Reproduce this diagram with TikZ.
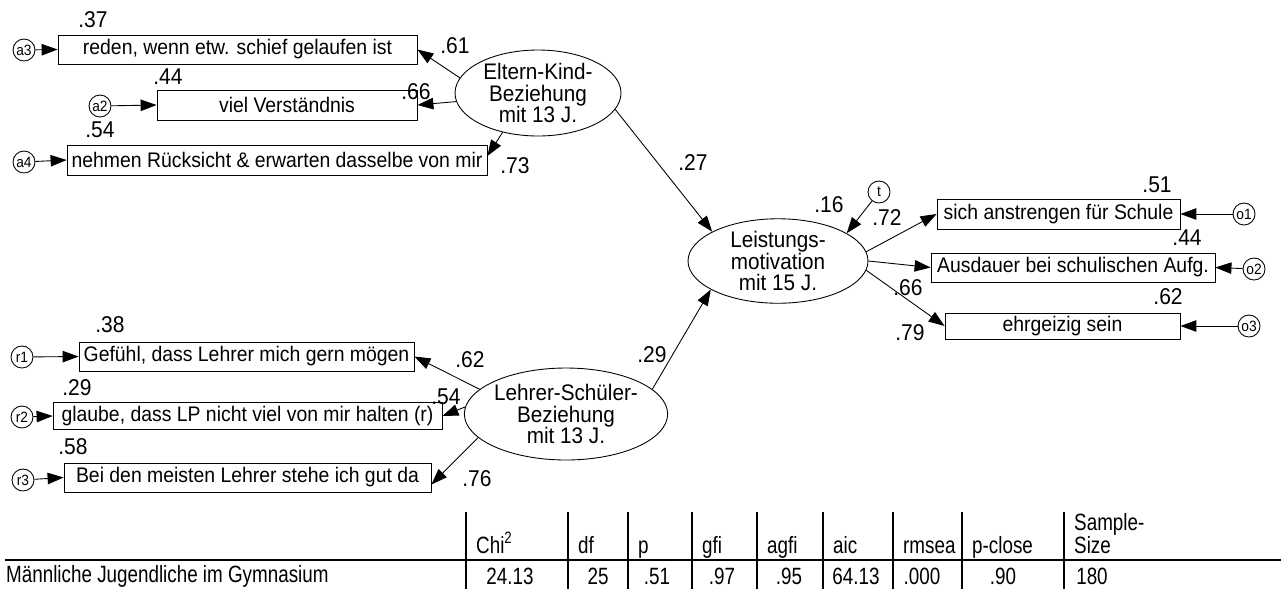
\documentclass[tikz,border=0pt]{standalone}
\usepackage{fontspec}
\setmainfont[FakeStretch=0.92]{Liberation Sans}
\newfontfamily\tablefont[FakeStretch=0.8]{Liberation Sans}
\usepackage{tikz}
\usetikzlibrary{arrows.meta, shapes.geometric}

\begin{document}
\begin{tikzpicture}[x=0.02cm, y=-0.02cm,
    every node/.style={font=\fontsize{12}{13}\selectfont},
    item/.style={draw, line width=0.5pt, inner sep=0pt, minimum height=0.58cm},
    latent/.style={draw, line width=0.5pt, ellipse, inner sep=0pt, align=center,
      font=\fontsize{12.8}{12.3}\selectfont},
    err/.style={draw, line width=0.5pt, circle, inner sep=0pt, minimum size=0.44cm,
      font=\fontsize{8.5}{8.5}\selectfont},
    coef/.style={font=\fontsize{13}{13}\selectfont},
    cell/.style={font=\tablefont\fontsize{13.4}{14}\selectfont},
    pathto/.style={-{Triangle[length=3.2mm,width=2.3mm]}, line width=0.5pt},
    rule/.style={line width=0.9pt}]
  \useasboundingbox (0,0) rectangle (1281,589);

  % Eltern-Kind-Beziehung and its indicators
  \node[latent, minimum width=3.32cm, minimum height=1.72cm] (ek) at (538,93)
    {Eltern-Kind-\\Beziehung\\mit 13 J.};
  \node[item, minimum width=7.18cm] (reden) at (237.5,49.5) {reden, wenn etw. schief gelaufen ist};
  \node[item, minimum width=5.2cm, minimum height=0.6cm] (verst) at (287,105) {viel Verständnis};
  \node[item, minimum width=8.4cm, minimum height=0.6cm] (ruecks) at (277,160)
    {nehmen Rücksicht \& erwarten dasselbe von mir};
  \node[err] (a3) at (24,50) {a3};
  \node[err] (a2) at (100,106) {a2};
  \node[err] (a4) at (24,162) {a4};

  % Lehrer-Schueler-Beziehung and its indicators
  \node[latent, minimum width=4cm, minimum height=1.84cm] (ls) at (566,414)
    {Lehrer-Schüler-\\Beziehung\\mit 13 J.};
  \node[item, minimum width=6.7cm] (gefuehl) at (246.5,356.5) {Gefühl, dass Lehrer mich gern mögen};
  \node[item, minimum width=7.78cm, minimum height=0.54cm] (glaube) at (247.5,416)
    {glaube, dass LP nicht viel von mir halten (r)};
  \node[item, minimum width=7.34cm] (stehe) at (247.5,477.5) {Bei den meisten Lehrer stehe ich gut da};
  \node[err] (r1) at (22,357) {r1};
  \node[err] (r2) at (22,417) {r2};
  \node[err] (r3) at (23,480) {r3};

  % Leistungsmotivation and its indicators
  \node[latent, minimum width=3.6cm, minimum height=1.64cm] (lm) at (778,261)
    {Leistungs-\\motivation\\mit 15 J.};
  \node[item, minimum width=4.86cm, minimum height=0.6cm] (anstr) at (1058.5,214) {sich anstrengen für Schule};
  \node[item, minimum width=5.68cm] (ausd) at (1073,267.5) {Ausdauer bei schulischen Aufg.};
  \node[item, minimum width=4.7cm, minimum height=0.52cm] (ehrg) at (1062.5,326) {ehrgeizig sein};
  \node[err] (t) at (879,192) {t};
  \node[err] (o1) at (1244,214) {o1};
  \node[err] (o2) at (1254,269) {o2};
  \node[err] (o3) at (1249,326) {o3};

  % paths
  \draw[pathto] (a3) -- (reden.west);
  \draw[pathto] (a2) -- (verst.west);
  \draw[pathto] (a4) -- (ruecks.west);
  \draw[pathto] (ek.169) -- (reden.east);
  \draw[pathto] (ek.186) -- (verst.east);
  \draw[pathto] (ek.228) -- ([yshift=0.8mm]ruecks.east);
  \draw[pathto] (ek.-12) -- (lm.156);
  \draw[pathto] (r1) -- (gefuehl.west);
  \draw[pathto] (r2) -- (glaube.west);
  \draw[pathto] (r3) -- (stehe.west);
  \draw[pathto] (ls.164) -- (gefuehl.east);
  \draw[pathto] (ls.176) -- (glaube.east);
  \draw[pathto] (ls.195) -- ([yshift=-1.4mm]stehe.east);
  \draw[pathto] (ls.16) -- (lm.203);
  \draw[pathto] (t) -- (lm.22);
  \draw[pathto] (lm.6) -- (anstr.west);
  \draw[pathto] (lm.0) -- (ausd.west);
  \draw[pathto] (lm.-6) -- (ehrg.west);
  \draw[pathto] (o1) -- (anstr.east);
  \draw[pathto] (o2) -- (ausd.east);
  \draw[pathto] (o3) -- (ehrg.east);

  % estimates
  \node[coef] (q-reden) at (93,20) {.37};
  \node[coef] (q-verst) at (168,77) {.44};
  \node[coef] (q-ruecks) at (100,130) {.54};
  \node[coef] (w-reden) at (455,46) {.61};
  \node[coef] (w-verst) at (416,92) {.66};
  \node[coef] (w-ruecks) at (515,166) {.73};
  \node[coef] (w-ek) at (693,163) {.27};
  \node[coef] (q-lm) at (829,205) {.16};
  \node[coef] (w-t) at (887,218) {.72};
  \node[coef] (q-anstr) at (1157,185) {.51};
  \node[coef] (q-ausd) at (1187,238) {.44};
  \node[coef] (q-ehrg) at (1168,297) {.62};
  \node[coef] (w-ausd) at (908,288) {.66};
  \node[coef] (w-ehrg) at (910,333) {.79};
  \node[coef] (q-gefuehl) at (110,325) {.38};
  \node[coef] (q-glaube) at (77,388) {.29};
  \node[coef] (q-stehe) at (73,447) {.58};
  \node[coef] (w-gefuehl) at (470,360) {.62};
  \node[coef] (w-glaube) at (446,397) {.54};
  \node[coef] (w-stehe) at (477,479) {.76};
  \node[coef] (w-ls) at (652,355) {.29};

  % fit table
  \draw[rule] (5,560) -- (1281,560);
  \foreach \x in {466,568,628,692,757,823,893,962,1064}
    \draw[rule] (\x,512) -- (\x,589);
  \foreach \x/\t [count=\i] in {466/Chi\textsuperscript{2}, 568/df, 628/p, 692/gfi, 757/agfi,
      823/aic, 893/rmsea, 962/p-close, 1064/Size}
    \node[cell, anchor=base west] (h\i) at (\x+4,553) {\t};
  \node[cell, anchor=base west] (h0) at (1068,530) {Sample-};
  \node[cell, anchor=base west] (group) at (0,582) {Männliche Jugendliche im Gymnasium};
  \foreach \x/\t [count=\i] in {510/24.13, 598/25, 657/.51, 722/.97, 789/.95,
      856/64.13, 922/.000, 1003/.90, 1092/180}
    \node[cell, anchor=base] (d\i) at (\x,584) {\t};
\end{tikzpicture}
\end{document}
